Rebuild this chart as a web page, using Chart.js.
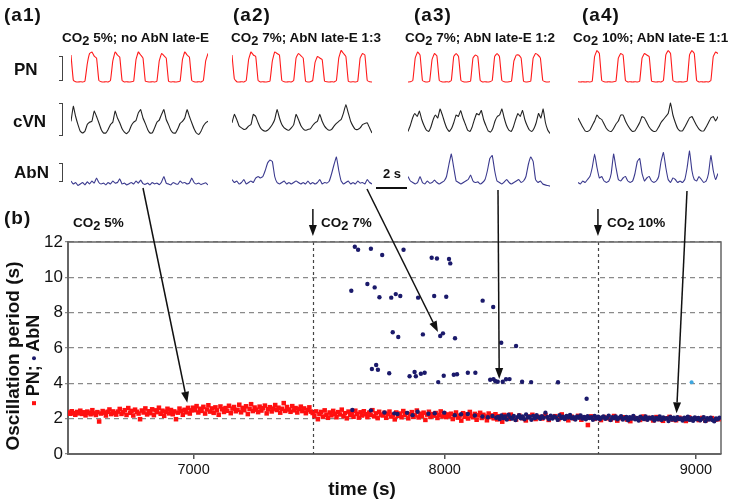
<!DOCTYPE html>
<html>
<head>
<meta charset="utf-8">
<script src="https://cdn.jsdelivr.net/npm/chart.js@4.4.0/dist/chart.umd.min.js"></script>
<style>
body { margin: 0; background: #fff; }
#fig { position: relative; width: 729px; height: 503px; overflow: hidden; font-family: "Liberation Sans", Arial, sans-serif; color: #111; }
#fig canvas { position: absolute; }
.t { position: absolute; white-space: nowrap; font-weight: bold; line-height: 1; }
.pan { font-size: 19px; letter-spacing: 1px; }
.sub { font-size: 13.5px; }
.row { font-size: 17px; }
.s { position: relative; top: 3px; font-size: 0.95em; }
.brk { position: absolute; left: 59px; width: 3px; border: 1.5px solid #444; border-left: none; }
</style>
</head>
<body>
<div id="fig">
  <canvas id="main" width="729" height="503" style="left:0;top:0"></canvas>

  <div class="t pan" style="left:4px;top:5px">(a1)</div>
  <div class="t pan" style="left:233px;top:5px">(a2)</div>
  <div class="t pan" style="left:414px;top:5px">(a3)</div>
  <div class="t pan" style="left:582px;top:5px">(a4)</div>

  <div class="t sub" style="left:62px;top:31px">CO<span class="s">2</span> 5%; no AbN late-E</div>
  <div class="t sub" style="left:231px;top:31px">CO<span class="s">2</span> 7%; AbN late-E 1:3</div>
  <div class="t sub" style="left:405px;top:31px">CO<span class="s">2</span> 7%; AbN late-E 1:2</div>
  <div class="t sub" style="left:573px;top:31px">Co<span class="s">2</span> 10%; AbN late-E 1:1</div>

  <div class="t row" style="left:14px;top:61px">PN</div>
  <div class="t row" style="left:13px;top:113px">cVN</div>
  <div class="t row" style="left:14px;top:164px">AbN</div>
  <div class="brk" style="top:56px;height:23px"></div>
  <div class="brk" style="top:103px;height:31px"></div>
  <div class="brk" style="top:163px;height:17px"></div>

  <div class="t" style="left:383px;top:167px;font-size:13px">2 s</div>
  <div style="position:absolute;left:376px;top:187px;width:31px;height:2px;background:#111"></div>

  <div class="t pan" style="left:4px;top:208px">(b)</div>
  <div class="t sub" style="left:73px;top:216px">CO<span class="s">2</span> 5%</div>
  <div class="t sub" style="left:321px;top:216px">CO<span class="s">2</span> 7%</div>
  <div class="t sub" style="left:607px;top:216px">CO<span class="s">2</span> 10%</div>

  <div class="t" style="left:12px;top:356px;font-size:19px;transform:translate(-50%,-50%) rotate(-90deg)">Oscillation period (s)</div>
  <div class="t" style="left:33px;top:360px;font-size:18px;transform:translate(-50%,-50%) rotate(-90deg)"><span style="display:inline-block;width:4px;height:4px;background:#ff1010;vertical-align:middle"></span> PN; <span style="display:inline-block;width:4px;height:4px;border-radius:50%;background:#1b1a6b;vertical-align:middle"></span> AbN</div>
  <div class="t" style="left:362px;top:479px;font-size:19px;transform:translateX(-50%)">time (s)</div>
</div>

<script>
const FONT = '"Liberation Sans", Arial, sans-serif';

// ---- panel (b): oscillation period vs time ----
const pnTime = [
  6502, 6509, 6515, 6522, 6529, 6536, 6543, 6549, 6556, 6563, 6570, 6577, 6583, 6590, 6597, 6604, 6611, 6617, 6624, 6631,
  6638, 6645, 6651, 6658, 6665, 6672, 6679, 6685, 6692,
  6699, 6706, 6713, 6719, 6726, 6733, 6740, 6747, 6753, 6760, 6767, 6774, 6781, 6787, 6794, 6801, 6808, 6815, 6821, 6828,
  6835, 6842, 6849, 6855, 6862, 6869, 6876, 6883, 6889, 6896, 6903, 6910, 6917, 6923, 6930, 6937, 6944, 6951, 6957, 6964,
  6971, 6978, 6985, 6991,
  6998, 7005, 7012, 7019, 7025, 7032, 7039, 7046, 7053, 7059, 7066, 7073, 7080, 7087, 7093, 7100, 7107, 7114, 7121, 7127,
  7134, 7141, 7148, 7155, 7161, 7168, 7175, 7182, 7189, 7195, 7202, 7209, 7216, 7223, 7229, 7236, 7243, 7250, 7257, 7263,
  7270, 7277, 7284, 7291, 7297, 7304, 7311, 7318, 7325, 7331, 7338, 7345, 7352, 7359, 7365, 7372, 7379, 7386, 7393, 7399,
  7406, 7413, 7420, 7427, 7433, 7440, 7447, 7454, 7461, 7467,
  7474, 7481, 7488, 7495, 7501, 7508, 7515, 7522, 7529, 7535, 7542, 7549, 7556, 7563, 7569, 7576, 7583, 7590, 7597, 7603,
  7610, 7617, 7624, 7631, 7637, 7644, 7651, 7658, 7665, 7671, 7678, 7685, 7692, 7699, 7705, 7712, 7719, 7726, 7733, 7739, 7746,
  7753, 7760, 7767, 7773, 7780, 7787, 7794, 7801, 7807, 7814, 7821, 7828, 7835, 7841, 7848, 7855, 7862, 7869, 7875, 7882,
  7889, 7896, 7903, 7909, 7916, 7923, 7930, 7937, 7943, 7950, 7957, 7964, 7971, 7977, 7984, 7991, 7998, 8005, 8011,
  8018, 8025, 8032, 8039, 8045, 8052, 8059, 8066, 8073, 8079, 8086, 8093, 8100, 8107, 8113, 8120, 8127, 8134, 8141, 8147,
  8154, 8161, 8168, 8175, 8181, 8188, 8195, 8202, 8209, 8215, 8222, 8229, 8236, 8243, 8249, 8256, 8263,
  8270, 8284, 8297, 8310, 8323, 8336, 8349, 8362, 8375, 8388, 8401, 8414, 8427, 8440, 8453, 8466, 8479, 8492, 8505, 8518,
  8531, 8544, 8557, 8570, 8583, 8596, 8609, 8622, 8635, 8648, 8661, 8674, 8687, 8700, 8713, 8726, 8739, 8752, 8765, 8778,
  8791, 8804, 8817, 8830, 8843, 8856, 8869, 8882, 8895, 8908, 8921, 8934, 8947, 8960, 8973, 8986, 8999, 9012, 9025, 9038,
  9051, 9064, 9077, 9090
];
const pnPeriod = [
  2.35, 2.28, 2.42, 2.31, 2.22, 2.38, 2.30, 2.45, 2.27, 2.36, 2.19, 2.40, 2.33, 2.25, 2.48, 2.30, 2.21, 2.37, 1.84, 2.29,
  2.43, 2.34, 2.18, 2.39, 2.52, 2.26, 2.41, 2.32, 2.23,
  2.40, 2.55, 2.27, 2.36, 2.48, 2.21, 2.60, 2.33, 2.44, 2.18, 2.51, 2.39, 2.29, 1.97, 2.46, 2.35, 2.58, 2.24, 2.42, 2.31,
  2.53, 2.20, 2.47, 2.37, 2.62, 2.28, 2.45, 2.16, 2.39, 2.56, 2.30, 2.49, 2.25, 2.41, 1.97, 2.34, 2.57, 2.43, 2.22, 2.50,
  2.36, 2.61, 2.29, 2.47,
  2.62, 2.48, 2.71, 2.35, 2.56, 2.44, 2.67, 2.29, 2.52, 2.76, 2.40, 2.58, 2.33, 2.64, 2.47, 2.22, 2.69, 2.53, 2.38, 2.60,
  2.45, 2.73, 2.31, 2.57, 2.66, 2.42, 2.50, 2.79, 2.36, 2.61, 2.48, 2.70, 2.26, 2.55, 2.82, 2.43, 2.63, 2.51, 2.37, 2.68,
  2.46, 2.59, 2.74, 2.30, 2.54, 2.65, 2.41, 2.57, 2.77, 2.49, 2.62, 2.34, 2.56, 2.88, 2.44, 2.66, 2.52, 2.39, 2.71, 2.47,
  2.60, 2.35, 2.55, 2.68, 2.43, 2.58, 2.31, 2.49, 2.64, 2.40,
  2.32, 2.15, 2.41, 1.97, 2.26, 2.38, 2.12, 2.47, 2.22, 2.05, 2.35, 2.19, 2.44, 2.28, 2.08, 2.37, 2.24, 2.51, 2.14, 2.31,
  2.02, 2.40, 2.20, 2.33, 2.11, 2.45, 2.27, 2.06, 2.36, 2.18, 2.42, 2.25, 2.09, 2.34, 2.21, 2.48, 2.13, 2.30, 2.03, 2.39, 2.23,
  2.18, 2.33, 2.05, 2.27, 2.40, 2.12, 2.22, 1.96, 2.35, 2.16, 2.29, 2.08, 2.43, 2.20, 2.31, 2.02, 2.25, 2.37, 2.11, 2.19,
  2.46, 2.07, 2.28, 2.15, 2.34, 1.93, 2.23, 2.39, 2.10, 2.26, 2.17, 2.32, 2.04, 2.21, 2.41, 2.13, 2.30, 2.09, 2.24,
  2.14, 2.28, 1.98, 2.20, 2.35, 2.06, 2.17, 1.89, 2.31, 2.11, 2.24, 2.01, 2.38, 2.15, 2.08, 2.27, 1.94, 2.19, 2.33, 2.04,
  2.22, 2.12, 1.91, 2.29, 2.09, 2.18, 2.02, 2.25, 1.96, 2.14, 2.07, 1.83, 2.21, 2.03, 2.16, 1.99, 2.23,
  2.08, 1.95, 2.17, 2.03, 1.90, 2.12, 2.22, 1.98, 2.10, 2.01, 2.19, 1.93, 2.06, 2.14, 1.97, 2.24, 2.04, 1.91, 2.11, 2.00,
  2.16, 1.94, 2.07, 1.64, 2.13, 1.99, 2.05, 1.92, 2.09, 2.02, 1.96, 2.15, 1.89, 2.03, 2.08, 1.95, 1.86, 2.06, 2.00, 1.93,
  2.12, 1.98, 2.04, 1.90, 2.09, 1.97, 1.88, 2.02, 2.10, 1.95, 1.91, 2.05, 1.99, 1.87, 2.07, 1.96, 2.01, 1.92, 2.04, 1.89,
  1.98, 2.03, 1.94, 1.97
];

// AbN: long periods (late-E bursts skipping cycles)
const abnBurstTime = [
  7642, 7655, 7706, 7751, 7836, 7948, 7969, 8017, 8022,
  7628, 7692, 7721, 7740, 7787, 7805, 7823, 7894, 7958, 8006, 8151, 8193,
  7793, 7815, 7913, 7982, 7993, 8041, 8225, 8284,
  7710, 7727, 7734, 7779, 7860, 7880, 7885, 7905, 7920, 7974, 7996, 8036, 8049, 8092, 8122, 8181, 8194, 8201, 8211,
  8231, 8244, 8258, 8308, 8344, 8451, 8565
];
const abnBurstPeriod = [
  11.73, 11.56, 11.62, 11.26, 11.56, 11.11, 11.07, 11.04, 10.79,
  9.24, 9.62, 9.43, 8.87, 8.85, 9.05, 8.94, 8.85, 8.94, 8.90, 8.68, 8.32,
  6.89, 6.62, 6.77, 6.68, 6.83, 6.55, 6.30, 6.11,
  4.81, 5.04, 4.77, 4.57, 4.40, 4.64, 4.40, 4.54, 4.60, 4.07, 4.43, 4.49, 4.51, 4.60, 4.60, 4.20, 4.24, 4.13, 4.09,
  4.09, 4.23, 4.24, 4.09, 4.07, 4.06, 3.13
];
// AbN: 1:1 with PN
const abnTime = [
  7632, 7706, 7760, 7799, 7812, 7850, 7872, 7892, 7935, 7960, 7998, 8040, 8065, 8092, 8120, 8150, 8172, 8190, 8205,
  8212, 8219, 8226, 8233, 8240, 8247, 8254, 8261, 8268, 8275, 8282, 8289, 8296, 8303, 8310, 8317, 8324, 8331, 8338, 8345,
  8352, 8359, 8366, 8373, 8380, 8387, 8394, 8401, 8408, 8415, 8422, 8429, 8436, 8443, 8450, 8457, 8464, 8471, 8478, 8485,
  8492, 8499, 8506, 8513, 8520, 8527, 8534, 8541, 8548, 8555, 8562, 8569, 8576, 8583, 8590, 8597, 8604, 8611, 8618, 8625,
  8632, 8639, 8646, 8653, 8660, 8667, 8674, 8681, 8688, 8695, 8702, 8709, 8716, 8723, 8730, 8737, 8744, 8751, 8758, 8765,
  8772, 8779, 8786, 8793, 8800, 8807, 8814, 8821, 8828, 8835, 8842, 8849, 8856, 8863, 8870, 8877, 8884, 8891, 8898, 8905,
  8912, 8919, 8926, 8933, 8940, 8947, 8954, 8961, 8968, 8975, 8982, 8989, 8996, 9003, 9010, 9017, 9024, 9031, 9038, 9045,
  9052, 9059, 9066, 9073, 9080, 9087, 9094
];
const abnPeriod = [
  2.49, 2.47, 2.35, 2.30, 2.26, 2.33, 2.20, 2.39, 2.28, 2.31, 2.34, 2.20, 2.25, 2.26, 2.18, 2.12, 2.08, 2.15, 2.05,
  2.10, 1.98, 2.18, 2.04, 2.12, 1.95, 2.22, 2.07, 2.00, 2.15, 1.92, 2.09, 2.19, 2.02, 2.13, 1.97, 2.24, 2.06, 2.11, 1.94,
  2.16, 2.03, 2.20, 2.08, 1.99, 2.14, 2.05, 2.34, 2.10, 1.96, 2.17, 2.01, 2.12, 2.07, 1.93, 2.19, 2.04, 2.11, 1.98, 2.15,
  2.06, 2.21, 2.02, 2.09, 1.95, 2.13, 2.05, 2.18, 2.00, 2.10, 1.97, 2.14, 2.04, 2.08, 1.94, 2.16, 2.01, 2.11, 1.96, 2.07,
  2.13, 1.99, 2.05, 2.17, 1.92, 2.09, 2.02, 2.12, 1.97, 2.06, 2.14, 1.95, 2.03, 2.10, 1.91, 2.08, 2.00, 2.15, 1.96, 2.04,
  1.89, 2.11, 2.02, 1.98, 2.13, 1.94, 2.06, 2.01, 2.09, 1.90, 2.04, 1.97, 2.12, 1.93, 2.07, 1.99, 2.03, 1.87, 2.10, 1.95,
  2.05, 1.92, 2.08, 1.98, 2.01, 1.90, 2.06, 1.96, 2.11, 1.93, 2.02, 1.88, 2.07, 1.97, 2.04, 1.91, 1.99, 2.09, 1.86, 2.03,
  1.95, 2.06, 1.92, 1.85, 2.01, 1.97, 2.05
];
const oddTime = [8983];
const oddPeriod = [4.06];

const xTicks = [7000, 8000, 9000];
const co2Times = [7475, 8610];
// where the arrows from panels a1..a4 point to in (b)
const arrowTargets = [[6975, 2.9], [7973, 6.9], [8217, 4.24], [8923, 2.3]];

// ---- panels a1..a4: integrated nerve traces (arbitrary units) ----
const pnA1 = [9,0.6,0.1,0,0.1,0,0.3,6,9.5,10, 8.6,8,0.5,0.1,0,0.1,0,0.5,7,10, 9,8.3,0.5,0,0.1,0,0.1,0.3,7.5,10,
              9,8,0.3,0.1,0,0.1,0,0.3,7,9.5, 8.8,8,0.3,0,0.1,0,0.1,0.3,7.5,10, 9,8.3,0.5,0.1,0,0.1,0,0.5,7,9.5];
const pnA2 = [9,1,0.1,0,0.1,0,0.5,7.5,10,9, 8.5,0.5,0,0.1,0,0.1,0.3,7,10,9.5, 9,0.5,0.1,0,0.1,0,0.5,8,9.5,8.8,
              8,0.3,0,0.1,0.5,6.5,8.5,8,7.5,0.3, 0.1,0,0.1,0,0.5,8,10.5,9.5,8.5,0.3, 0,0.1,0,0.3,8,9.5,9,0.5,0.1,0];
const pnA3 = [0,0.1,0.5,8,10,9,0.5,0.1,0,0.3, 7.5,9.5,8.7,0.5,0.1,0,0.1,0,0.5,8.5, 9.5,8.5,0.5,0.1,0,0.1,0.3,8,9,8.5,
              0.5,0,0.1,0,0.1,0.5,8.5,9.5,8.5,0.5, 0.1,0,0.1,0.3,7,9,9,8,0.3,0, 0.1,0.3,8,9.5,9,8,0.5,0.1,0,0.1];
const pnA4 = [0.1,0,0.1,0,0.1,0,0.3,8.5,10.5,9.5, 0.5,0.1,0,0.1,0,0.1,0.3,8,9.5,9, 0.5,0,0.1,0,0.1,0,0.3,8,9.5,9,
              8.5,0.3,0.1,0,0.1,0,0.5,9,10.5,9.5, 0.5,0.1,0,0.1,0,0.1,0.3,9,10.5,9.5, 0.5,0,0.1,0,0.1,0,0.5,8.5,10,9.5];

const cvnA1 = [4.4,9.4,6,3.3,1.1,0.5,1.1,3.3,4.1,4.4, 7.8,6,3.9,1.7,0.5,0.5,1.7,3.3,4.1,7.8, 5.5,3.9,1.9,0.8,0.3,1.1,3,4.1,4.7,7.2,
               8.3,5.5,3.7,1.7,0.5,0.5,2.2,4.1,4.8,6.7, 8.3,5,3.3,1.4,0.5,0.5,1.9,3.7,4.4,5.5, 8.3,6,3.9,1.9,0.5,0,1.1,2.8,3.9,4.4];
const cvnA2 = [3.9,6.7,5,2.8,2.2,1.7,1.9,2.8,3.3,6.7, 6,3.9,2.2,1.4,1.1,1.4,2.2,3.3,5,8.3, 5.5,3.3,2.2,1.7,1.4,2.2,3.3,6.7,5,3,
               1.9,1.4,1.7,1.9,3,3.9,4.4,6.7,4.4,2.8, 1.9,1.4,1.7,2.8,3.7,4.4,5,7.2,10,7.2, 4.4,2.8,1.7,1.7,2.2,3.3,3.7,3.9,2.2,0.5];
const cvnA3 = [1,3,5.5,7,6,7.8,5,3,1.5, 1,2.5,5,6.5,5.5,8.5,6.5,4,2, 1,2,4,6.5,6,8,5.5,3.5,1.5, 1,2.5,5,7,6.5,8,5,3,1.2,
               0.8,2,4.5,6,6.5,8.5,5.5,3,1.5, 1,2.5,5,7,6,8,5,3,1.5, 1,2,4,7,5.5,8.5,4,1.5,0.3];
const cvnA4 = [5.5,4,2.5,1.2,1,1.5,3,4.5,6.5,5.5, 5,3.5,2,1.2,1,2,3.5,4.5,6.5,6.5, 4.5,3,1.8,1,1.2,2.5,4,6,5.5,4,
               2.5,1.5,1,1.2,2.5,4,5,6,7,10.5, 6.5,4,2,1.2,1.2,2.5,4,5.5,6,4.5, 3,1.8,1.2,1.2,2.5,4,5.5,6,4.5,6];

const abnA1 = [2.5,1.5,2,1,1.5,2,1.2,2.2,1.5,2.5, 1.8,3.5,2,1.5,1.8,1.2,2,1.5,2.5,1.8, 2,3.2,1.5,1.8,1.2,1.6,2,1.5,2.5,1.8,
               2.8,1.6,1.4,1.8,1.2,2,1.5,1.8,1.3,2.2, 4,1.8,1.5,1.2,2,1.6,1.4,2.5,1.8,2, 1.5,1.8,3.5,2,1.5,1.8,1.3,1.6,1.9,1.2];
const abnA2 = [3,2,2.5,1.5,2,3,1.5,2,2.5,2, 3.5,4,3.5,4,6,8.5,9.5,9,4,2, 1.5,2,2.5,1.5,2,1.5,2,2.5,2,1.5,
               2,1.5,2.5,1.5,2,1.5,2,3,1.5,2, 1.8,2.5,5,8,10.5,6,2.5,1.5,2,2.5, 1.5,2,1.5,2.5,1.8,2,1.5,3,2,1.5];
const abnA3 = [4,2.5,2,1.5,2,4,2,1.5,2.5,1.8, 2,2.8,2,1.5,2,2.5,4,8,11.5,7, 2.5,2,1.5,2,2.5,3,4.5,2.5,2,2.2,
               1.5,2,3,6,10,11,6,2.5,2,1.5, 2.2,3,2,1.5,2,2.5,3,2,2.5,4, 8,10.5,9,3,2,2.5,1.5,1.2,1,0.8];
const abnA4 = [2,1.5,2.5,2,3,4,7,11.5,7,3.5, 4,2.5,2,2.5,5,11.5,7,3,2.5,3.5, 4,2.5,2,2.5,5,9,10,5,2.5,3.5,
               4,2.5,2,2.5,4,9,12,7,3,2, 3.5,3,2,2.5,2,3,7,12.5,6,3, 2.5,4,3,2,2.5,5,11,6,3,5];

// ---- layout of the trace panels ----
const panels = [
  { left: 71, width: 137, pn: pnA1, cvn: cvnA1, abn: abnA1 },
  { left: 232, width: 140, pn: pnA2, cvn: cvnA2, abn: abnA2 },
  { left: 408, width: 142, pn: pnA3, cvn: cvnA3, abn: abnA3 },
  { left: 578, width: 140, pn: pnA4, cvn: cvnA4, abn: abnA4 }
];
const rows = [
  { key: 'pn', top: 49, height: 36, min: -1, max: 11, color: '#ff1a1a' },
  { key: 'cvn', top: 100, height: 39, min: -1.5, max: 11.5, color: '#222222' },
  { key: 'abn', top: 148, height: 42, min: -0.5, max: 13.5, color: '#3b3a8e' }
];

const fig = document.getElementById('fig');
panels.forEach(p => {
  rows.forEach(r => {
    const cv = document.createElement('canvas');
    cv.width = p.width;
    cv.height = r.height;
    cv.style.left = p.left + 'px';
    cv.style.top = r.top + 'px';
    fig.appendChild(cv);
    const vals = p[r.key];
    new Chart(cv, {
      type: 'line',
      data: {
        labels: vals.map((_, i) => i),
        datasets: [{ data: vals, borderColor: r.color, borderWidth: 1.1, pointRadius: 0, tension: 0.1 }]
      },
      options: {
        responsive: false, animation: false, events: [],
        layout: { padding: 0 },
        plugins: { legend: { display: false }, tooltip: { enabled: false } },
        scales: { x: { display: false }, y: { display: false, min: r.min, max: r.max } }
      }
    });
  });
});

// ---- panel b ----
function arrow(ctx, x0, y0, x1, y1) {
  const a = Math.atan2(y1 - y0, x1 - x0), L = 11, W = 4;
  const bx = x1 - L * Math.cos(a), by = y1 - L * Math.sin(a);
  ctx.beginPath(); ctx.moveTo(x0, y0); ctx.lineTo(bx, by); ctx.stroke();
  ctx.beginPath(); ctx.moveTo(x1, y1);
  ctx.lineTo(bx + W * Math.sin(a), by - W * Math.cos(a));
  ctx.lineTo(bx - W * Math.sin(a), by + W * Math.cos(a));
  ctx.closePath(); ctx.fill();
}

// start points of the arrows, just under each trace panel
const arrowFrom = [[143, 188], [367, 189], [498, 190], [687, 191]];

const marks = {
  id: 'marks',
  beforeDatasetsDraw(chart) {
    const { ctx, chartArea: a, scales: { x } } = chart;
    ctx.save();
    ctx.strokeStyle = '#444'; ctx.lineWidth = 1.2; ctx.setLineDash([3, 3]);
    co2Times.forEach(t => {
      const px = Math.round(x.getPixelForValue(t)) + 0.5;
      ctx.beginPath(); ctx.moveTo(px, a.top); ctx.lineTo(px, a.bottom); ctx.stroke();
    });
    ctx.setLineDash([]);
    ctx.strokeStyle = '#666'; ctx.lineWidth = 1.5;
    ctx.beginPath(); ctx.moveTo(a.left, a.top); ctx.lineTo(a.right, a.top); ctx.lineTo(a.right, a.bottom); ctx.stroke();
    ctx.restore();
  },
  afterDatasetsDraw(chart) {
    const { ctx, chartArea: a, scales: { x, y } } = chart;
    ctx.save();
    ctx.strokeStyle = '#111'; ctx.fillStyle = '#111'; ctx.lineWidth = 1.5;
    co2Times.forEach(t => {
      const px = x.getPixelForValue(t);
      arrow(ctx, px, a.top - 33, px, a.top - 6);
    });
    arrowTargets.forEach((tg, i) => {
      arrow(ctx, arrowFrom[i][0], arrowFrom[i][1], x.getPixelForValue(tg[0]), y.getPixelForValue(tg[1]));
    });
    ctx.restore();
  }
};

const pts = (ts, ps) => ts.map((t, i) => ({ x: t, y: ps[i] }));

new Chart(document.getElementById('main'), {
  type: 'scatter',
  data: {
    datasets: [
      { label: 'AbN', data: pts(abnBurstTime, abnBurstPeriod).concat(pts(abnTime, abnPeriod)),
        pointStyle: 'circle', pointRadius: 2.2, backgroundColor: '#1b1a6b', borderWidth: 0, order: 1 },
      { label: 'AbN*', data: pts(oddTime, oddPeriod),
        pointStyle: 'circle', pointRadius: 2, backgroundColor: '#3fa7e0', borderWidth: 0, order: 1 },
      { label: 'PN', data: pts(pnTime, pnPeriod),
        pointStyle: 'rect', pointRadius: 3.2, backgroundColor: '#ff1010', borderWidth: 0, order: 2 }
    ]
  },
  options: {
    responsive: false, animation: false, events: [],
    layout: { padding: { left: 28, right: 8, top: 242, bottom: 19 } },
    plugins: { legend: { display: false }, tooltip: { enabled: false } },
    scales: {
      x: {
        type: 'linear', min: 6500, max: 9100,
        afterBuildTicks: s => { s.ticks = xTicks.map(v => ({ value: v })); },
        afterFit: s => { s.height = 30; },
        grid: { drawOnChartArea: false, drawTicks: true, tickLength: 5, color: '#555', lineWidth: 1.5 },
        border: { color: '#666', width: 2 },
        ticks: { font: { family: FONT, size: 14.5 }, color: '#111', padding: 2, maxRotation: 0, callback: v => String(v) }
      },
      y: {
        min: 0, max: 12,
        afterFit: s => { s.width = 40; },
        grid: { color: '#8a8a8a', lineWidth: 1.2, tickLength: 3 },
        border: { color: '#666', width: 2, dash: [5, 4] },
        ticks: { stepSize: 2, font: { family: FONT, size: 17 }, color: '#111', padding: 2 }
      }
    }
  },
  plugins: [marks]
});
</script>
</body>
</html>
